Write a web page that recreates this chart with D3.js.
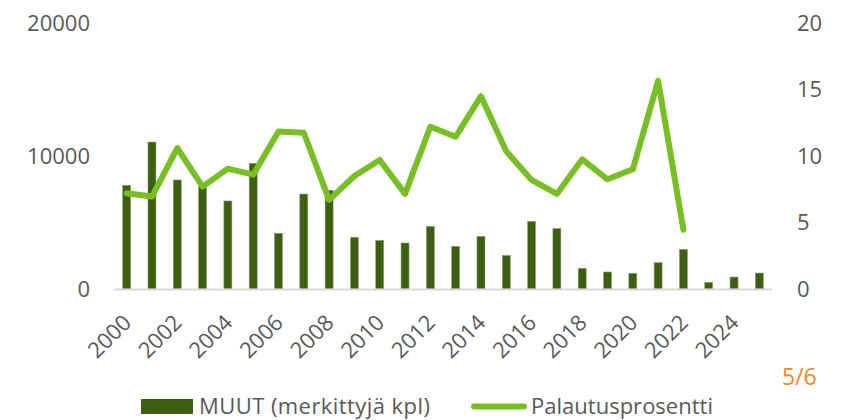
<!DOCTYPE html>
<html>
<head>
<meta charset="utf-8">
<script src="https://cdn.jsdelivr.net/npm/d3@7"></script>
<style>
  body { margin: 0; background: #fff; }
  text { font-family: "Open Sans", sans-serif; fill: #595959; }
</style>
</head>
<body>
<svg id="chart" width="851" height="420"></svg>
<script>
var years = d3.range(2000, 2026);
var muut = [7800, 11050, 8200, 7700, 6620, 9450, 4190, 7140, 7420, 3890,
            3660, 3460, 4710, 3210, 3960, 2530, 5090, 4560, 1560, 1280,
            1180, 1980, 2980, 500, 900, 1200];
var palautus = [7.2, 6.95, 10.6, 7.7, 9.05, 8.6, 11.85, 11.75, 6.7, 8.5,
                9.7, 7.15, 12.2, 11.45, 14.5, 10.35, 8.2, 7.15, 9.75, 8.25,
                9.0, 15.65, 4.45];
var leftTicks = [0, 10000, 20000];
var rightTicks = [0, 5, 10, 15, 20];
var xLabels = d3.range(2000, 2026, 2);

var svg = d3.select("#chart");

var x = d3.scaleBand().domain(years).range([114, 772])
    .paddingInner(0.684).paddingOuter(0.342);
var y = d3.scaleLinear().domain([0, 20000]).range([289, 23]);
var y2 = d3.scaleLinear().domain([0, 20]).range([289, 23]);

// bars
svg.append("g").selectAll("rect")
    .data(muut)
  .enter().append("rect")
    .attr("x", function(d, i) { return x(years[i]); })
    .attr("y", function(d) { return y(d); })
    .attr("width", x.bandwidth())
    .attr("height", function(d) { return y(0) - y(d); })
    .attr("fill", "#3e5e12")
    .attr("stroke", "#8ea374")
    .attr("stroke-width", 0.6);

// baseline
svg.append("line")
    .attr("x1", 114).attr("x2", 772)
    .attr("y1", y(0) + 0.5).attr("y2", y(0) + 0.5)
    .attr("stroke", "#d9d9d9")
    .attr("stroke-width", 2);

// line
var line = d3.line()
    .x(function(d, i) { return x(years[i]) + x.bandwidth() / 2; })
    .y(function(d) { return y2(d); });

svg.append("path")
    .datum(palautus)
    .attr("d", line)
    .attr("fill", "none")
    .attr("stroke", "#78bf26")
    .attr("stroke-width", 6)
    .attr("stroke-linejoin", "round")
    .attr("stroke-linecap", "round");

// left axis
svg.append("g").selectAll("text")
    .data(leftTicks)
  .enter().append("text")
    .attr("x", 90)
    .attr("y", function(d) { return y(d); })
    .attr("dy", "0.36em")
    .attr("text-anchor", "end")
    .style("font-size", "22px")
    .text(function(d) { return d; });

// right axis
svg.append("g").selectAll("text")
    .data(rightTicks)
  .enter().append("text")
    .attr("x", 797)
    .attr("y", function(d) { return y2(d); })
    .attr("dy", "0.36em")
    .style("font-size", "22px")
    .text(function(d) { return d; });

// x labels
svg.append("g").selectAll("text")
    .data(xLabels)
  .enter().append("text")
    .attr("transform", function(d) {
      return "translate(" + (x(d) + x.bandwidth() / 2 + 6) + ",324) rotate(-45)";
    })
    .attr("text-anchor", "end")
    .style("font-size", "22px")
    .text(function(d) { return d; });

// legend
var legend = svg.append("g");
legend.append("rect")
    .attr("x", 141).attr("y", 399)
    .attr("width", 52).attr("height", 15)
    .attr("fill", "#3e5e12");
legend.append("text")
    .attr("x", 199).attr("y", 414)
    .style("font-size", "22px")
    .attr("textLength", 231)
    .text("MUUT (merkittyjä kpl)");
legend.append("line")
    .attr("x1", 474).attr("x2", 524)
    .attr("y1", 406.5).attr("y2", 406.5)
    .attr("stroke", "#78bf26")
    .attr("stroke-width", 6)
    .attr("stroke-linecap", "round");
legend.append("text")
    .attr("x", 531).attr("y", 414)
    .style("font-size", "22px")
    .attr("textLength", 182)
    .text("Palautusprosentti");

svg.append("text")
    .attr("x", 782).attr("y", 385)
    .style("font-size", "23px")
    .style("fill", "#f7861f")
    .text("5/6");
</script>
</body>
</html>
